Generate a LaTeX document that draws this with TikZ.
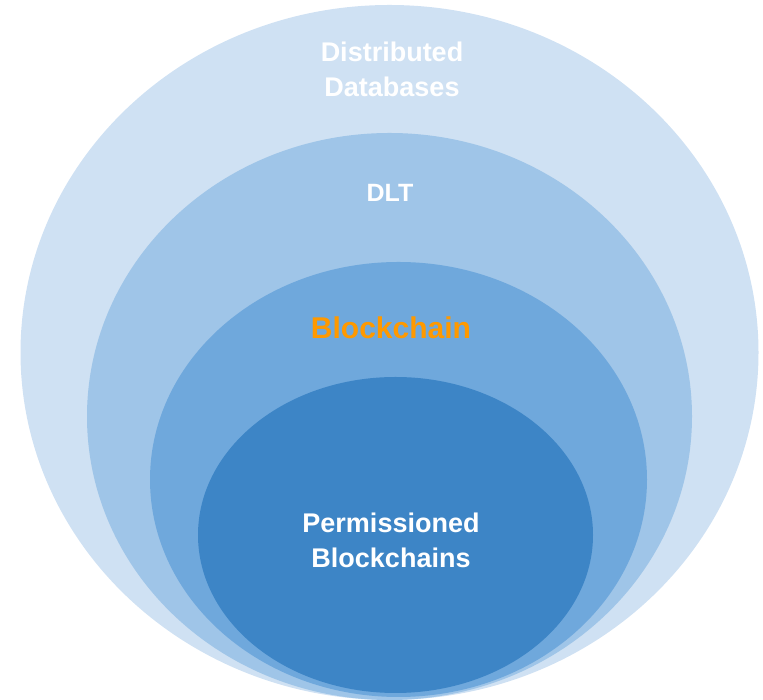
\documentclass[tikz,border=0pt]{standalone}
\usepackage{fontspec}
\setmainfont{Liberation Sans}
\definecolor{c1}{HTML}{CFE1F3}
\definecolor{c2}{HTML}{9FC5E8}
\definecolor{c3}{HTML}{6FA8DC}
\definecolor{c4}{HTML}{3D85C6}
\definecolor{corange}{HTML}{FF9900}
\begin{document}
\begin{tikzpicture}[x=1pt,y=1pt,
  lbl/.style={font=\fontsize{27}{35}\selectfont\bfseries, text=white, align=center, inner sep=0pt}]
\useasboundingbox (0,0) rectangle (763,700);
\fill[c1] (389.5,347.5) ellipse [x radius=369, y radius=347.5];
\fill[c2] (389.5,283.5) ellipse [x radius=302.5, y radius=283.5];
\fill[c3] (398.5,220.5) ellipse [x radius=248.5, y radius=217.5];
\fill[c4] (395.5,165) ellipse [x radius=197.5, y radius=158];
\node[lbl] (dd) at (392,631) {Distributed\\Databases};
\node[lbl, font=\fontsize{25}{30}\selectfont\bfseries] (dlt) at (390,507) {DLT};
\node[lbl, text=corange, font=\fontsize{30}{36}\selectfont\bfseries] (bc) at (391,372) {Blockchain};
\node[lbl] (pb) at (391,160) {Permissioned\\Blockchains};
\end{tikzpicture}
\end{document}
